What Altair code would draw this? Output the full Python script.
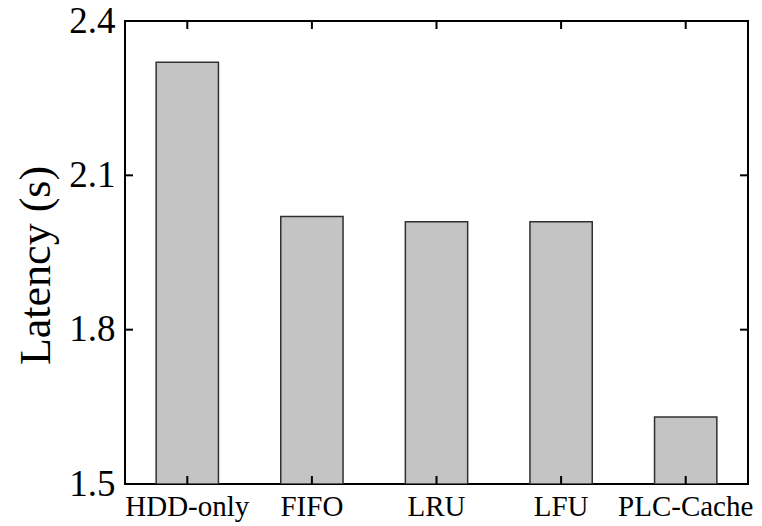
import altair as alt
import pandas as pd

# Mean request latency per caching policy
policies = ["HDD-only", "FIFO", "LRU", "LFU", "PLC-Cache"]
latency = [2.32, 2.02, 2.01, 2.01, 1.63]
y_ticks = [1.5, 1.8, 2.1, 2.4]
inner_ticks = [1.8, 2.1]

W, H = 623, 463
SERIF = "Liberation Serif"
TICK = 8

bars_df = pd.DataFrame({"policy": policies, "latency": latency})
yt_df = pd.DataFrame({"v": inner_ticks})

x_scale = alt.Scale(domain=policies, paddingInner=0.5, paddingOuter=0.25)
y_scale = alt.Scale(domain=[1.5, 2.4], nice=False, zero=False)

bars = alt.Chart(bars_df).mark_bar(
    color="#c4c4c4", stroke="#303030", strokeWidth=1.5, clip=True
).encode(
    x=alt.X("policy:N", scale=x_scale, sort=policies,
            axis=alt.Axis(title=None, labelAngle=0, ticks=False, domain=False,
                          labelFont=SERIF, labelFontSize=29, labelColor="#000",
                          labelPadding=8)),
    y=alt.Y("latency:Q", scale=y_scale,
            axis=alt.Axis(title="Latency (s)", values=y_ticks, format=".1f",
                          ticks=False, domain=False, grid=False,
                          labelFont=SERIF, labelFontSize=37, labelColor="#000",
                          labelPadding=10, titleFont=SERIF, titleFontSize=44,
                          titleFontWeight="normal", titleColor="#000",
                          titlePadding=10, titleY=244)),
    y2=alt.datum(1.5),
)

# inward tick marks on all four sides of the frame
x_bottom = alt.Chart(bars_df).mark_rule(color="#000", strokeWidth=2).encode(
    x=alt.X("policy:N", scale=x_scale, sort=policies),
    y=alt.value(H - TICK), y2=alt.value(H))
x_top = alt.Chart(bars_df).mark_rule(color="#000", strokeWidth=2).encode(
    x=alt.X("policy:N", scale=x_scale, sort=policies),
    y=alt.value(0), y2=alt.value(TICK))
y_left = alt.Chart(yt_df).mark_rule(color="#000", strokeWidth=2).encode(
    y=alt.Y("v:Q", scale=y_scale),
    x=alt.value(0), x2=alt.value(TICK))
y_right = alt.Chart(yt_df).mark_rule(color="#000", strokeWidth=2).encode(
    y=alt.Y("v:Q", scale=y_scale),
    x=alt.value(W - TICK), x2=alt.value(W))

chart = alt.layer(bars, x_bottom, x_top, y_left, y_right).properties(
    width=W, height=H,
    autosize=alt.AutoSizeParams(type="none"),
    padding={"left": 125, "top": 21, "right": 14, "bottom": 42},
    background="white",
).configure_view(stroke="#000", strokeWidth=2)

chart.save("out.html", embed_options={"renderer": "svg", "actions": False})
